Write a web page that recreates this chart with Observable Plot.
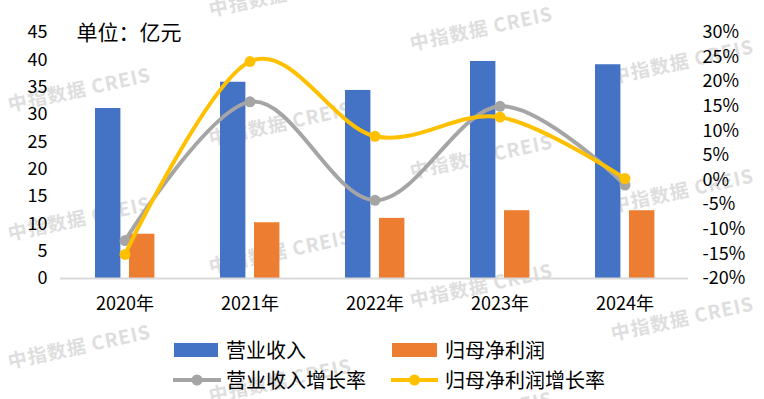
<!DOCTYPE html>
<html>
<head>
<meta charset="utf-8">
<script src="https://cdn.jsdelivr.net/npm/d3@7"></script>
<script src="https://cdn.jsdelivr.net/npm/@observablehq/plot@0.6"></script>
<style>
  html, body { margin: 0; padding: 0; background: #fff; }
  #wrap { position: relative; width: 764px; height: 399px; overflow: hidden; background: #fff;
          font-family: 'Noto Sans CJK SC', 'Noto Sans', sans-serif; }
  #chart { position: absolute; left: 0; top: 0; z-index: 1; }
  .wm { position: absolute; z-index: 0; white-space: nowrap; font-weight: bold; font-size: 19px;
        letter-spacing: 1px; color: #dedede; transform: translate(-50%, -50%) rotate(-12deg); }
  .lg { position: absolute; z-index: 2; font-size: 20px; line-height: 24px; color: #000; white-space: nowrap; }
  .sw { position: absolute; z-index: 2; }
</style>
</head>
<body>
<div id="wrap"></div>
<script>
const years = ["2020年", "2021年", "2022年", "2023年", "2024年"];
const revenue = [31.1, 35.9, 34.4, 39.7, 39.1];          // 营业收入 (亿元)
const profit = [8.1, 10.2, 11.0, 12.4, 12.4];            // 归母净利润 (亿元)
const revenueGrowth = [-12.3, 15.9, -4.1, 15.0, -1.0];   // 营业收入增长率 (%)
const profitGrowth = [-15.1, 24.1, 8.9, 12.8, 0.3];      // 归母净利润增长率 (%)
const leftTicks = [0, 5, 10, 15, 20, 25, 30, 35, 40, 45];
const rightTicks = [-20, -15, -10, -5, 0, 5, 10, 15, 20, 25, 30];
const seriesNames = ["营业收入", "归母净利润", "营业收入增长率", "归母净利润增长率"];
const colors = ["#4472c4", "#ed7d31", "#a5a5a5", "#ffc000"];

// map right-axis percent onto left-axis units: [-20,30] -> [0,45]
const toLeft = p => (p + 20) * 0.9;
const fromLeft = v => Math.round(v / 0.9 - 20);

const data = years.map((year, i) => ({
  year, revenue: revenue[i], profit: profit[i],
  rg: toLeft(revenueGrowth[i]), pg: toLeft(profitGrowth[i])
}));

const font = "'Noto Sans CJK SC', 'Noto Sans', sans-serif";

const chart = Plot.plot({
  width: 764,
  height: 320,
  marginLeft: 60,
  marginRight: 76,
  marginTop: 32,
  marginBottom: 42,
  style: { fontFamily: font, fontSize: "18px", color: "#000", background: "transparent", overflow: "visible" },
  x: { domain: years, padding: 0, label: null },
  y: { domain: [0, 45], label: null },
  marks: [
    Plot.axisX({ tickSize: 0, tickPadding: 19, label: null, fontSize: 18 }),
    Plot.axisY(leftTicks, { anchor: "left", tickSize: 0, tickPadding: 13, label: null, fontSize: 18 }),
    Plot.axisY(rightTicks.map(toLeft), {
      anchor: "right", tickSize: 0, tickPadding: 14, label: null, fontSize: 18,
      tickFormat: v => fromLeft(v) + "%"
    }),
    Plot.barY(data, { x: "year", y: "revenue", fill: colors[0], insetLeft: 33, insetRight: 66.6 }),
    Plot.barY(data, { x: "year", y: "profit", fill: colors[1], insetLeft: 67, insetRight: 32.6 }),
    Plot.ruleY([0], { stroke: "#d9d9d9", strokeWidth: 2 }),
    Plot.line(data, { x: "year", y: "rg", stroke: colors[2], strokeWidth: 4, curve: "cardinal" }),
    Plot.dot(data, { x: "year", y: "rg", fill: colors[2], r: 5.5 }),
    Plot.line(data, { x: "year", y: "pg", stroke: colors[3], strokeWidth: 4, curve: "cardinal" }),
    Plot.dot(data, { x: "year", y: "pg", fill: colors[3], r: 5.5 }),
    Plot.text(["单位：亿元"], { frameAnchor: "top-left", dx: 16, dy: 1, lineAnchor: "middle", fontSize: 21, fill: "#000" })
  ]
});
chart.id = "chart";
const wrap = document.getElementById("wrap");
wrap.appendChild(chart);

// watermark
for (let k = 0; k < 4; k++) {
  for (let j = -1; j < 3; j++) {
    const cx = 79 + 201 * k, cy = 88 + 33.5 * k + 128.5 * j;
    if (cy < -30 || cy > 430) continue;
    const d = document.createElement("div");
    d.className = "wm";
    d.textContent = "中指数据 CREIS";
    d.style.left = cx + "px";
    d.style.top = cy + "px";
    wrap.appendChild(d);
  }
}

// legend
const legendItems = [
  { name: seriesNames[0], color: colors[0], type: "rect", x: 174, w: 44, tx: 226, cy: 350 },
  { name: seriesNames[1], color: colors[1], type: "rect", x: 392, w: 45, tx: 445, cy: 350 },
  { name: seriesNames[2], color: colors[2], type: "line", x: 173, w: 48, tx: 226, cy: 380 },
  { name: seriesNames[3], color: colors[3], type: "line", x: 391, w: 47, tx: 445, cy: 380 }
];
for (const it of legendItems) {
  const ns = "http://www.w3.org/2000/svg";
  const svg = document.createElementNS(ns, "svg");
  svg.setAttribute("class", "sw");
  svg.setAttribute("width", it.w);
  svg.setAttribute("height", 14);
  svg.style.left = it.x + "px";
  svg.style.top = (it.cy - 7) + "px";
  if (it.type === "rect") {
    const r = document.createElementNS(ns, "rect");
    r.setAttribute("x", 0); r.setAttribute("y", 0);
    r.setAttribute("width", it.w); r.setAttribute("height", 14);
    r.setAttribute("fill", it.color);
    svg.appendChild(r);
  } else {
    const l = document.createElementNS(ns, "line");
    l.setAttribute("x1", 0); l.setAttribute("x2", it.w);
    l.setAttribute("y1", 7); l.setAttribute("y2", 7);
    l.setAttribute("stroke", it.color); l.setAttribute("stroke-width", 4);
    l.setAttribute("stroke-linecap", "round");
    svg.appendChild(l);
    const c = document.createElementNS(ns, "circle");
    c.setAttribute("cx", it.w / 2); c.setAttribute("cy", 7); c.setAttribute("r", 5.5);
    c.setAttribute("fill", it.color);
    svg.appendChild(c);
  }
  wrap.appendChild(svg);
  const t = document.createElement("div");
  t.className = "lg";
  t.textContent = it.name;
  t.style.left = it.tx + "px";
  t.style.top = (it.cy - 12) + "px";
  wrap.appendChild(t);
}
</script>
</body>
</html>
